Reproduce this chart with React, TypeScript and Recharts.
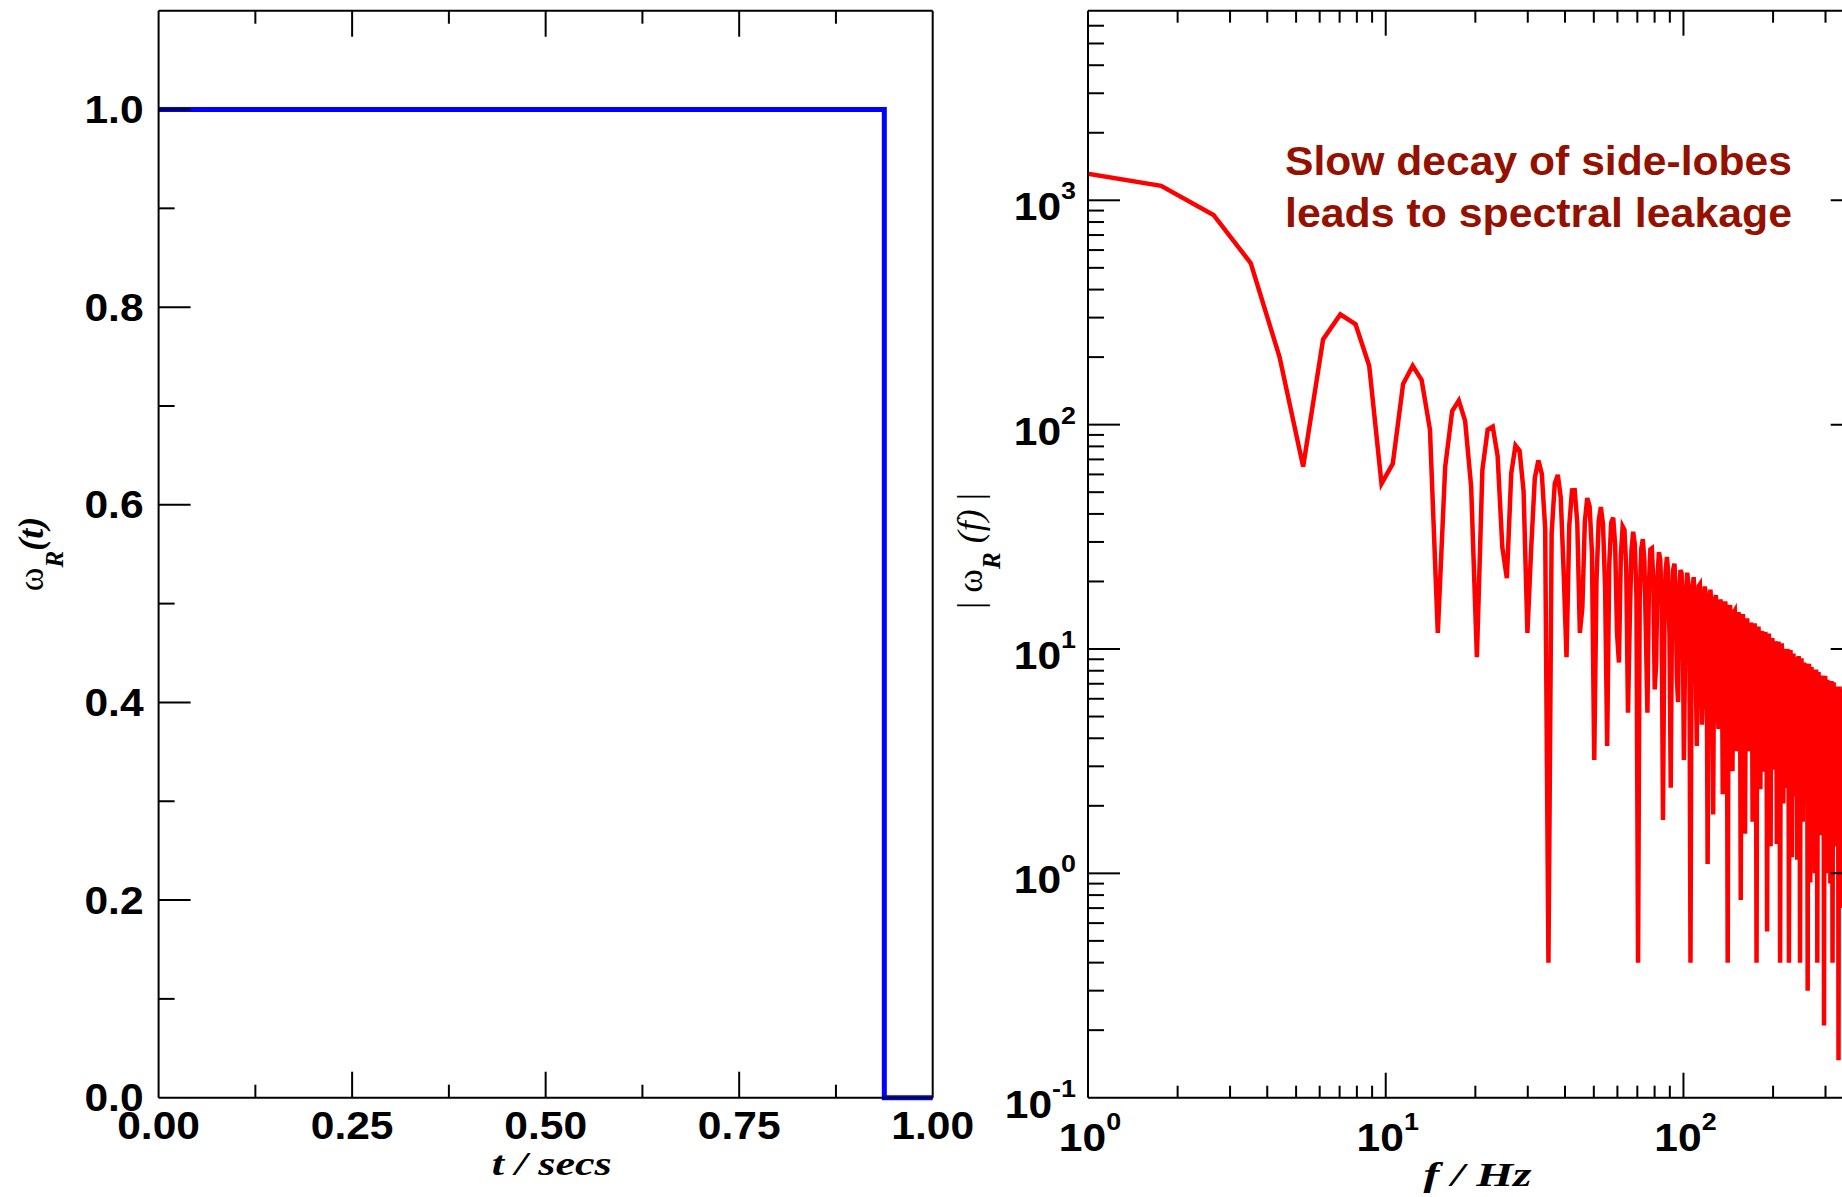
import React from 'react';
import { LineChart, Line, XAxis, YAxis } from 'recharts';

// ---------- Left panel: rectangular window in time ----------
const TIME_SECS = [0, 0.9375, 0.9375, 1.0];
const WINDOW_VALUES = [1, 1, 0, 0];
const TIME_TICKS = [0, 0.125, 0.25, 0.375, 0.5, 0.625, 0.75, 0.875, 1];
const WINDOW_TICKS = [0, 0.1, 0.2, 0.3, 0.4, 0.5, 0.6, 0.7, 0.8, 0.9, 1.0];

// ---------- Right panel: |spectrum| of the window ----------
const FREQ_STEP_HZ = 0.88; // spacing of the spectral samples
const MAG_0_35HZ = [
  1352, 1160, 860, 525, 200, 65, 240, 310, 280, 183, 54.5, 67, 152, 183, 158, 95, 11.8, 65, 115, 128,
  104, 53, 9.2, 63, 95, 98, 72.5, 28.4, 20.7, 60.6, 80.7, 76.5, 50.6, 11.8, 28.1, 57.8, 69.3, 60.3, 34.5,
];
const MAG_35_105HZ = [
  0.4, 32.8, 54.6, 59.7, 47.3, 21.9, 9.2, 35.6, 51.0, 51.1, 36.4, 11.8, 15.3, 36.9, 47.1, 43.2, 27.0, 3.2, 20.1, 37.2,
  42.9, 36.0, 18.8, 3.7, 23.6, 36.6, 38.5, 29.2, 11.7, 8.7, 26.0, 35.2, 34.0, 22.9, 5.2, 13.1, 27.4, 33.3, 29.4, 17.0,
  0.4, 16.6, 28.0, 30.9, 24.8, 11.6, 5.2, 19.2, 27.8, 28.1, 20.2, 6.6, 8.6, 21.0, 27.0, 25.0, 15.8, 1.73, 11.9, 22.2,
  25.7, 21.7, 11.5, 2.41, 14.5, 22.6, 24.0, 18.3, 7.4, 5.8, 16.5, 22.5, 21.8, 14.8, 3.2, 8.6, 17.9, 21.9, 19.4, 11.3,
];
const MAG_105_210HZ = [
  0.4, 11.1, 18.8, 20.9, 16.8, 7.9, 3.7, 13.2, 19.1, 19.4, 14.0, 4.6, 6.0, 14.7, 19.0, 17.6, 11.1, 1.1, 8.5, 15.8,
  18.4, 15.6, 8.2, 1.83, 10.5, 16.4, 17.4, 13.3, 5.4, 4.4, 12.1, 16.6, 16.1, 10.9, 2.25, 6.4, 13.3, 16.3, 14.5, 8.5,
  0.4, 8.3, 14.2, 15.7, 12.7, 6.0, 2.85, 10.0, 14.6, 14.8, 10.7, 3.5, 4.6, 11.3, 14.6, 13.6, 8.6, 0.76, 6.6, 12.3,
  14.3, 12.1, 6.4, 1.5, 8.2, 12.8, 13.7, 10.5, 4.2, 3.5, 9.6, 13.1, 12.7, 8.7, 1.7, 5.1, 10.6, 13.0, 11.6, 6.75,
  0.4, 6.7, 11.35, 12.6, 10.2, 4.8, 2.37, 8.1, 11.8, 12.0, 8.7, 2.84, 3.75, 9.2, 11.9, 11.1, 7.0, 0.55, 5.4, 10.0,
  11.7, 9.9, 5.3, 1.32, 6.75, 10.6, 11.2, 8.6, 3.5, 2.9, 7.9, 10.8, 10.5, 7.2, 1.35, 4.2, 8.8, 10.8, 9.6, 5.6,
];
const MAG_210_351HZ = [
  0.4, 5.6, 9.5, 10.6, 8.5, 4.0, 2.05, 6.8, 9.9, 10.0, 7.3, 2.4, 3.15, 7.7, 10.0, 9.3, 5.9, 0.4, 4.5, 8.5,
  9.9, 8.4, 4.5, 1.18, 5.7, 9.0, 9.55, 7.3, 3.0, 2.2, 6.7, 9.2, 9.0, 6.1, 1.15, 3.6, 7.5, 9.3, 8.2, 4.8,
  0.4, 4.8, 8.1, 9.1, 7.3, 3.5, 1.7, 5.8, 8.5, 8.7, 6.3, 2.06, 2.7, 6.7, 8.6, 8.1, 5.1, 0.3, 3.9, 7.3,
  8.6, 7.3, 3.9, 0.91, 5.0, 7.8, 8.3, 6.4, 2.6, 1.94, 5.9, 8.0, 7.8, 5.3, 1.0, 3.1, 6.6, 8.1, 7.2, 4.2,
  0.4, 4.2, 7.1, 7.9, 6.4, 3.0, 1.48, 5.1, 7.5, 7.6, 5.5, 1.81, 2.4, 5.9, 7.6, 7.1, 4.5, 0.21, 3.5, 6.5,
  7.6, 6.4, 3.4, 1.0, 4.4, 6.9, 7.3, 5.6, 2.3, 1.72, 5.2, 7.1, 6.95, 4.7, 0.9, 2.8, 5.85, 7.2, 6.4, 3.7,
  0.4, 3.7, 6.3, 7.1, 5.7, 2.7, 1.32, 4.55, 6.65, 6.8, 4.9, 1.62, 2.14, 5.25, 6.8, 6.3, 4.0, 0.147, 3.1, 5.8,
  6.8, 5.75, 3.06, 0.7, 3.9, 6.2, 6.6, 5.1, 2.05, 1.54, 4.7, 6.4, 6.2, 4.25, 0.8, 2.5, 5.3, 6.5, 5.8, 3.4,
];
const FREQ_TICKS = [1, 2, 3, 4, 5, 6, 7, 8, 9, 10, 20, 30, 40, 50, 60, 70, 80, 90, 100, 200, 300];
const MAG_TICKS = [
  0.1, 0.2, 0.3, 0.4, 0.5, 0.6, 0.7, 0.8, 0.9, 1, 2, 3, 4, 5, 6, 7, 8, 9, 10, 20, 30, 40, 50, 60, 70, 80, 90,
  100, 200, 300, 400, 500, 600, 700, 800, 900, 1000, 2000, 3000, 4000, 5000, 6000,
];

const ANNOTATION_LINES = ['Slow decay of side-lobes', 'leads to spectral leakage'];

// ---------- tables for the library ----------
const windowData = TIME_SECS.map((t, i) => ({ t, w: WINDOW_VALUES[i] }));
const SPECTRUM_MAG = [...MAG_0_35HZ, ...MAG_35_105HZ, ...MAG_105_210HZ, ...MAG_210_351HZ];
const spectrumData = SPECTRUM_MAG.map((m, i) => ({ f: (i + 1) * FREQ_STEP_HZ, m }));

// ---------- styling ----------
const SANS = "'Liberation Sans', Arial, Helvetica, sans-serif";
const SERIF = "'Liberation Serif', 'Times New Roman', serif";
const STRETCH = 1.12;
const LABEL_SIZE = 38;
const SUP_SIZE = 24;
const AXIS_LINE = { stroke: '#000', strokeWidth: 2 };

const isDecade = (v: number) => {
  const l = Math.log10(v);
  return Math.abs(l - Math.round(l)) < 1e-6;
};

const LinXTick = (props: any) => {
  const { x, y, payload, side } = props;
  const v = payload.value as number;
  const major = Math.abs(v * 4 - Math.round(v * 4)) < 1e-6;
  const len = major ? 26 : 13;
  const dir = side === 'top' ? 1 : -1;
  return (
    <g>
      {v > 0 && v < 1 && <line x1={x} x2={x} y1={y} y2={y + dir * len} stroke="#000" strokeWidth={2} />}
      {side === 'bottom' && major && (
        <text
          transform={`translate(${x},${y + 41}) scale(${STRETCH},1)`}
          textAnchor="middle"
          fontFamily={SANS}
          fontWeight={700}
          fontSize={LABEL_SIZE}
          fill="#000"
        >
          {v.toFixed(2)}
        </text>
      )}
    </g>
  );
};

const LinYTick = (props: any) => {
  const { x, y, payload, side } = props;
  const v = payload.value as number;
  const major = Math.round(v * 10) % 2 === 0;
  const len = major ? 32 : 16;
  const dir = side === 'left' ? 1 : -1;
  return (
    <g>
      {v > 0 && <line x1={x} x2={x + dir * len} y1={y} y2={y} stroke="#000" strokeWidth={2} />}
      {side === 'left' && major && (
        <text
          transform={`translate(${x - 15},${y + 13.5}) scale(${STRETCH},1)`}
          textAnchor="end"
          fontFamily={SANS}
          fontWeight={700}
          fontSize={LABEL_SIZE}
          fill="#000"
        >
          {v.toFixed(1)}
        </text>
      )}
    </g>
  );
};

const LogXTick = (props: any) => {
  const { x, y, payload, side } = props;
  const v = payload.value as number;
  const major = isDecade(v);
  const len = major ? 25 : 12;
  const dir = side === 'top' ? 1 : -1;
  return (
    <g>
      {v > 1 && <line x1={x} x2={x} y1={y} y2={y + dir * len} stroke="#000" strokeWidth={2} />}
      {side === 'bottom' && major && (
        <text
          transform={`translate(${x + 2},${y + 53}) scale(${STRETCH},1)`}
          textAnchor="middle"
          fontFamily={SANS}
          fontWeight={700}
          fontSize={LABEL_SIZE}
          fill="#000"
        >
          10
          <tspan dy={-21} fontSize={SUP_SIZE}>
            {Math.round(Math.log10(v))}
          </tspan>
        </text>
      )}
    </g>
  );
};

const LogYTick = (props: any) => {
  const { x, y, payload, side } = props;
  const v = payload.value as number;
  const major = isDecade(v);
  const len = major ? 32 : 16;
  const dir = side === 'left' ? 1 : -1;
  return (
    <g>
      {v > 0.1 && <line x1={x} x2={x + dir * len} y1={y} y2={y} stroke="#000" strokeWidth={2} />}
      {side === 'left' && major && (
        <text
          transform={`translate(${x - 12},${y + 20}) scale(${STRETCH},1)`}
          textAnchor="end"
          fontFamily={SANS}
          fontWeight={700}
          fontSize={LABEL_SIZE}
          fill="#000"
        >
          10
          <tspan dy={-21} fontSize={SUP_SIZE}>
            {Math.round(Math.log10(v))}
          </tspan>
        </text>
      )}
    </g>
  );
};

const CHART_H = 1197;
const MARGIN = { top: 0.7, right: 7.3, bottom: 39.3, left: 58.6 };

export default function App() {
  return (
    <div
      style={{
        position: 'fixed',
        left: 0,
        top: 0,
        width: 1842,
        height: 1197,
        overflow: 'hidden',
        background: '#fff',
      }}
    >
      <div style={{ position: 'absolute', left: 0, top: 0 }}>
        <LineChart width={1000} height={CHART_H} data={windowData} margin={{ ...MARGIN, right: 47.3 }}>
          <XAxis
            xAxisId="b"
            dataKey="t"
            type="number"
            domain={[0, 1]}
            ticks={TIME_TICKS}
            interval={0}
            orientation="bottom"
            height={60}
            tickSize={0}
            tickMargin={0}
            tickLine={false}
            axisLine={AXIS_LINE}
            tick={(p: any) => <LinXTick {...p} side="bottom" />}
          />
          <XAxis
            xAxisId="t"
            dataKey="t"
            type="number"
            domain={[0, 1]}
            ticks={TIME_TICKS}
            interval={0}
            orientation="top"
            height={10}
            tickSize={0}
            tickMargin={0}
            tickLine={false}
            axisLine={AXIS_LINE}
            tick={(p: any) => <LinXTick {...p} side="top" />}
          />
          <YAxis
            yAxisId="l"
            type="number"
            domain={[0, 1.1]}
            ticks={WINDOW_TICKS}
            interval={0}
            orientation="left"
            width={100}
            tickSize={0}
            tickMargin={0}
            tickLine={false}
            axisLine={AXIS_LINE}
            tick={(p: any) => <LinYTick {...p} side="left" />}
          />
          <YAxis
            yAxisId="r"
            type="number"
            domain={[0, 1.1]}
            ticks={WINDOW_TICKS}
            interval={0}
            orientation="right"
            width={20}
            tickSize={0}
            tickMargin={0}
            tickLine={false}
            axisLine={AXIS_LINE}
            tick={(p: any) => <LinYTick {...p} side="right" />}
          />
          <Line
            xAxisId="b"
            yAxisId="l"
            dataKey="w"
            type="linear"
            stroke="#0000FF"
            strokeWidth={5}
            dot={false}
            activeDot={false}
            isAnimationActive={false}
          />
        </LineChart>
      </div>

      <div style={{ position: 'absolute', left: 960, top: 0 }}>
        <LineChart width={930} height={CHART_H} data={spectrumData} margin={{ ...MARGIN, left: 28 }}>
          <XAxis
            xAxisId="b"
            dataKey="f"
            type="number"
            scale="log"
            domain={[1, 400]}
            allowDataOverflow
            ticks={FREQ_TICKS}
            interval={0}
            orientation="bottom"
            height={60}
            tickSize={0}
            tickMargin={0}
            tickLine={false}
            axisLine={AXIS_LINE}
            tick={(p: any) => <LogXTick {...p} side="bottom" />}
          />
          <XAxis
            xAxisId="t"
            dataKey="f"
            type="number"
            scale="log"
            domain={[1, 400]}
            allowDataOverflow
            ticks={FREQ_TICKS}
            interval={0}
            orientation="top"
            height={10}
            tickSize={0}
            tickMargin={0}
            tickLine={false}
            axisLine={AXIS_LINE}
            tick={(p: any) => <LogXTick {...p} side="top" />}
          />
          <YAxis
            yAxisId="l"
            type="number"
            scale="log"
            domain={[0.1, 7000]}
            allowDataOverflow
            ticks={MAG_TICKS}
            interval={0}
            orientation="left"
            width={100}
            tickSize={0}
            tickMargin={0}
            tickLine={false}
            axisLine={AXIS_LINE}
            tick={(p: any) => <LogYTick {...p} side="left" />}
          />
          <YAxis
            yAxisId="r"
            type="number"
            scale="log"
            domain={[0.1, 7000]}
            allowDataOverflow
            ticks={MAG_TICKS}
            interval={0}
            orientation="right"
            width={20}
            tickSize={0}
            tickMargin={0}
            tickLine={false}
            axisLine={AXIS_LINE}
            tick={(p: any) => <LogYTick {...p} side="right" />}
          />
          <Line
            xAxisId="b"
            yAxisId="l"
            dataKey="m"
            type="linear"
            stroke="#FF0000"
            strokeWidth={4.5}
            dot={false}
            activeDot={false}
            isAnimationActive={false}
          />
        </LineChart>
      </div>

      <svg
        width={1842}
        height={1197}
        style={{ position: 'absolute', left: 0, top: 0, pointerEvents: 'none' }}
      >
        {/* left y title */}
        <text transform="translate(43,554) rotate(-90)" textAnchor="middle" fontFamily={SERIF} fontSize={36} fill="#000">
          ω
          <tspan dy={20} fontSize={25} fontWeight={700} fontStyle="italic">
            R
          </tspan>
          <tspan dy={-20} fontWeight={700} fontStyle="italic">
            (t)
          </tspan>
        </text>
        {/* left x title */}
        <text
          x={551.7}
          y={1175}
          textAnchor="middle"
          fontFamily={SERIF}
          fontSize={34}
          fontWeight={700}
          fontStyle="italic"
          fill="#000"
          textLength={120}
          lengthAdjust="spacingAndGlyphs"
        >
          t / secs
        </text>
        {/* right y title */}
        <text transform="translate(982,551) rotate(-90)" textAnchor="middle" fontFamily={SERIF} fontSize={36} fill="#000">
          | ω
          <tspan dy={18} fontSize={25} fontWeight={700} fontStyle="italic">
            R
          </tspan>
          <tspan dy={-18} fontStyle="italic">
            {' (f) '}
          </tspan>
          |
        </text>
        {/* right x title */}
        <text
          x={1477.5}
          y={1186}
          textAnchor="middle"
          fontFamily={SERIF}
          fontSize={34}
          fontWeight={700}
          fontStyle="italic"
          fill="#000"
          textLength={108}
          lengthAdjust="spacingAndGlyphs"
        >
          f / Hz
        </text>
        {/* annotation */}
        {ANNOTATION_LINES.map((line, i) => (
          <text
            key={line}
            x={1285}
            y={175 + i * 52}
            fontFamily={SANS}
            fontSize={40}
            fontWeight={700}
            fill="#941100"
            textLength={507}
            lengthAdjust="spacingAndGlyphs"
          >
            {line}
          </text>
        ))}
      </svg>
    </div>
  );
}
